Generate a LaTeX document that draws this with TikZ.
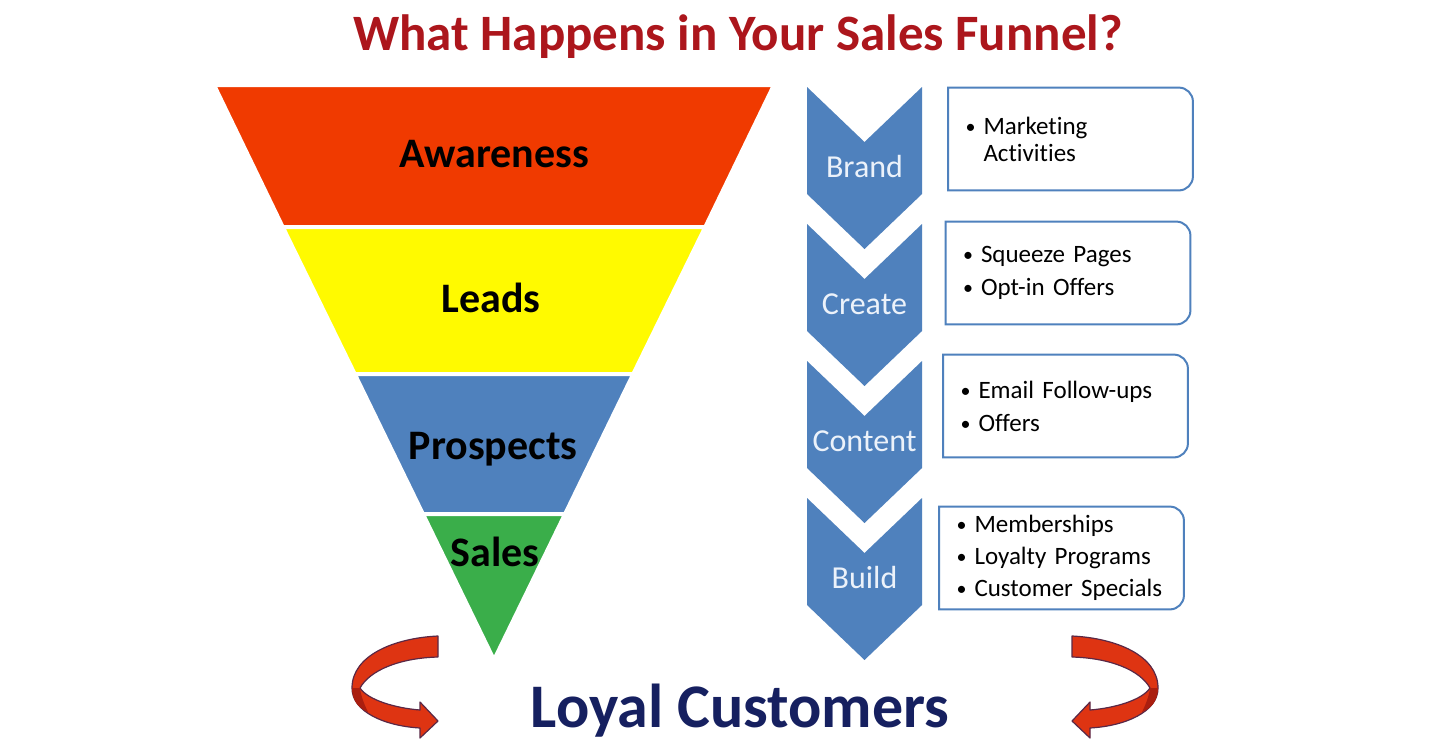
\documentclass[tikz,border=0pt]{standalone}
\usepackage{fontspec}
\setmainfont{Carlito}[Ligatures=NoCommon]
\definecolor{titlered}{RGB}{172,22,28}
\definecolor{loyalblue}{RGB}{22,32,96}
\definecolor{awarered}{RGB}{240,58,0}
\definecolor{leadyellow}{RGB}{255,250,0}
\definecolor{officeblue}{RGB}{79,129,189}
\definecolor{salesgreen}{RGB}{58,174,74}
\definecolor{arrowred}{RGB}{222,52,18}
\definecolor{arrowdark}{RGB}{170,30,15}
\definecolor{arrowedge}{RGB}{90,40,70}
\tikzset{
  funnellabel/.style={anchor=base,font=\bfseries\fontsize{21}{25}\selectfont},
  chevronlabel/.style={anchor=base,text={rgb,255:red,236;green,242;blue,250},font=\fontsize{16}{19}\selectfont},
  notebox/.style={minimum width=122pt,minimum height=51pt,text width=105pt,inner xsep=8.5pt,
    align=left,font=\fontsize{12.5}{13.5}\selectfont},
  boxline/.style={draw=officeblue,line width=1pt},
  curlarrow/.style={fill=arrowred,draw=arrowedge,line width=0.6pt,line join=round}
}
\newcommand{\itm}[1]{\makebox[9pt][l]{\raisebox{0.5pt}{\scalebox{0.8}{\textbullet}}}#1}
\begin{document}
\begin{tikzpicture}[x=0.5pt,y=-0.5pt]
  \useasboundingbox (0,0) rectangle (1433,750);
  \fill[white] (0,0) rectangle (1433,750);
  \draw (738,50) node[anchor=base,text=titlered,font=\bfseries\fontsize{25.5}{30}\selectfont] (title){What Happens in Your Sales Funnel?};
  % funnel
  \begin{scope}[draw=white,line width=2pt]
    \filldraw[fill=awarered] (214,85) -- (774,85) -- (705.3,227) -- (282.7,227) -- cycle;
    \filldraw[fill=leadyellow] (282.7,227) -- (705.3,227) -- (633.3,374) -- (354.7,374) -- cycle;
    \filldraw[fill=officeblue] (354.7,374) -- (633.3,374) -- (565.1,514) -- (422.9,514) -- cycle;
    \filldraw[fill=salesgreen] (422.9,514) -- (565.1,514) -- (494,660) -- cycle;
  \end{scope}
  \draw
    (494,167) node[funnellabel] (aware){Awareness}
    (491,312) node[funnellabel] (leads){Leads}
    (493,459) node[funnellabel] (prosp){Prospects}
    (495,566) node[funnellabel] (sales){Sales};
  % chevrons
  \begin{scope}[fill=officeblue]
    \fill (807,87) -- (864.5,142) -- (922,87) -- (922,194) -- (864.5,249) -- (807,194) -- cycle;
    \fill (807,224) -- (864.5,279) -- (922,224) -- (922,331) -- (864.5,386) -- (807,331) -- cycle;
    \fill (807,361) -- (864.5,416) -- (922,361) -- (922,468) -- (864.5,523) -- (807,468) -- cycle;
    \fill (807,498) -- (864.5,553) -- (922,498) -- (922,605) -- (864.5,660) -- (807,605) -- cycle;
  \end{scope}
  \draw
    (864.5,177) node[chevronlabel] (brand){Brand}
    (864.5,314) node[chevronlabel] (create){Create}
    (864.5,451) node[chevronlabel] (content){Content}
    (864.5,588) node[chevronlabel] (build){Build};
  % note boxes
  \node[notebox] (b1) at (1070.5,139) {\itm{Marketing}\\\hspace*{9pt}Activities};
  \node[notebox] (b2) at (1068,273) {\itm{Squeeze Pages}\\[3pt]\itm{Opt-in Offers}};
  \node[notebox] (b3) at (1065.5,406) {\itm{Email Follow-ups}\\[3pt]\itm{Offers}};
  \node[notebox] (b4) at (1061.5,558) {\itm{Memberships}\\[2.5pt]\itm{Loyalty Programs}\\[2.5pt]\itm{Customer Specials}};
  \begin{scope}[boxline]
    \draw (b1.south west) -- (b1.north west) [rounded corners=7pt] -- (b1.north east) -- (b1.south east) [sharp corners] -- cycle;
    \draw (b2.south west) -- (b2.north west) [rounded corners=7pt] -- (b2.north east) -- (b2.south east) [sharp corners] -- cycle;
    \draw (b3.south west) -- (b3.north west) [rounded corners=7pt] -- (b3.north east) -- (b3.south east) [sharp corners] -- cycle;
    \draw (b4.south west) -- (b4.north west) [rounded corners=7pt] -- (b4.north east) -- (b4.south east) [sharp corners] -- cycle;
  \end{scope}
  % loyal customers
  \draw (740,727) node[anchor=base,text=loyalblue,font=\bfseries\fontsize{31}{36}\selectfont] (loyal){Loyal Customers};
  \draw[curlarrow] (438,636) .. controls (395,638) and (352,655) .. (352,688)
    .. controls (352,712) and (385,726) .. (420,728) -- (420,738) -- (438,721) -- (420,702) -- (420,710)
    .. controls (395,708) and (368,700) .. (360,688) .. controls (370,670) and (400,658) .. (438,657) -- cycle;
  \fill[arrowdark] (352,688) .. controls (352,700) and (358,708) .. (368,712) .. controls (364,704) and (361,696) .. (360,688) -- cycle;
  \begin{scope}[shift={(1510,0)},xscale=-1]
    \draw[curlarrow] (438,636) .. controls (395,638) and (352,655) .. (352,688)
      .. controls (352,712) and (385,726) .. (420,728) -- (420,738) -- (438,721) -- (420,702) -- (420,710)
      .. controls (395,708) and (368,700) .. (360,688) .. controls (370,670) and (400,658) .. (438,657) -- cycle;
    \fill[arrowdark] (352,688) .. controls (352,700) and (358,708) .. (368,712) .. controls (364,704) and (361,696) .. (360,688) -- cycle;
  \end{scope}
\end{tikzpicture}
\end{document}
